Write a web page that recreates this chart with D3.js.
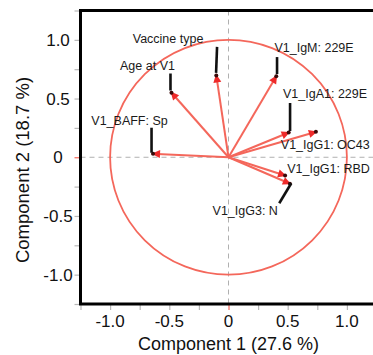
<!DOCTYPE html>
<html>
<head>
<meta charset="utf-8">
<script src="https://cdn.jsdelivr.net/npm/d3@7/dist/d3.min.js"></script>
<style>
  html, body { margin: 0; padding: 0; background: #fff; }
  svg { display: block; }
  text { font-family: "Liberation Sans", Arial, Helvetica, sans-serif; }
</style>
</head>
<body>
<svg id="chart" width="373" height="355"></svg>
<script>
// PCA loadings (variables projected on the first two components)
const variables = ["Vaccine type", "Age at V1", "V1_BAFF: Sp", "V1_IgM: 229E",
                   "V1_IgA1: 229E", "V1_IgG1: OC43", "V1_IgG1: RBD", "V1_IgG3: N"];
const pc1 = [-0.105, -0.49, -0.65, 0.41, 0.52, 0.75, 0.49, 0.53];
const pc2 = [0.71, 0.56, 0.03, 0.70, 0.215, 0.22, -0.16, -0.23];

const majorTicks = [-1.0, -0.5, 0, 0.5, 1.0];
const minorTicks = [-1.25, -0.75, -0.25, 0.25, 0.75, 1.25];
const tickLabels = ["-1.0", "-0.5", "0", "0.5", "1.0"];

const xTitle = "Component 1  (27.6 %)";
const yTitle = "Component 2  (18.7 %)";

// label placement relative to arrow tip: text centre dx, baseline dy, leader start (lx, ly) or null
const labelLayout = [
  { dx: -48, dy: -31, leader: [1, -27] },
  { dx: -23, dy: -22, leader: [0, -18] },
  { dx: -22, dy: -29, leader: [0, -26] },
  { dx: 37,  dy: -23, leader: [0, -18] },
  { dx: 35,  dy: -34, leader: [0, -29] },
  { dx: 8,   dy: 18,  leader: null },
  { dx: 42,  dy: -3,  leader: null },
  { dx: -46, dy: 31,  leader: [-12, 19] }
];

const svg = d3.select("#chart");
const red = "#f4675b";

const x = d3.scaleLinear().domain([-1.25, 1.25]).range([80.5, 376.5]);
const y = d3.scaleLinear().domain([-1.25, 1.25]).range([304, 10.5]);

// axes: minor + major tick marks, labels drawn separately
const tickColor = "#b8b8b8";
const xAxisG = svg.append("g").attr("transform", `translate(0,${y(-1.25)})`);
xAxisG.call(d3.axisBottom(x).tickValues(majorTicks.concat(minorTicks)).tickSize(6).tickFormat(""));
xAxisG.select(".domain").remove();
xAxisG.selectAll(".tick line").attr("stroke", d => d === 0 ? red : tickColor).attr("stroke-width", 1.2);

const yAxisG = svg.append("g").attr("transform", `translate(${x(-1.25)},0)`);
yAxisG.call(d3.axisLeft(y).tickValues(majorTicks.concat(minorTicks)).tickSize(6).tickFormat(""));
yAxisG.select(".domain").remove();
yAxisG.selectAll(".tick line").attr("stroke", d => d === 0 ? red : tickColor).attr("stroke-width", 1.2);

svg.append("g").selectAll("text").data(majorTicks).join("text")
  .attr("x", d => x(d)).attr("y", 327)
  .attr("text-anchor", "middle").attr("font-size", 17).attr("fill", "#111")
  .text((d, i) => tickLabels[i]);

svg.append("g").selectAll("text").data(majorTicks).join("text")
  .attr("x", 58).attr("y", d => y(d) + 6)
  .attr("text-anchor", "middle").attr("font-size", 17).attr("fill", "#111")
  .text((d, i) => tickLabels[i]);

// zero reference lines
const plot = svg.append("g");
plot.append("line")
  .attr("x1", x(-1.25)).attr("x2", x(1.25)).attr("y1", y(0)).attr("y2", y(0))
  .attr("stroke", "#b0b0b0").attr("stroke-width", 1).attr("stroke-dasharray", "5,4");
plot.append("line")
  .attr("x1", x(0)).attr("x2", x(0)).attr("y1", y(1.25)).attr("y2", y(-1.25))
  .attr("stroke", "#b0b0b0").attr("stroke-width", 1).attr("stroke-dasharray", "5,4");

// unit circle of correlations
plot.append("ellipse")
  .attr("cx", x(0)).attr("cy", y(0))
  .attr("rx", x(1) - x(0)).attr("ry", y(0) - y(1))
  .attr("fill", "none").attr("stroke", red).attr("stroke-width", 1.8);

// loading arrows
const pts = variables.map((v, i) => ({ name: v, px: x(pc1[i]), py: y(pc2[i]), lay: labelLayout[i] }));
const ox = x(0), oy = y(0);

plot.append("g").selectAll("line").data(pts).join("line")
  .attr("x1", ox).attr("y1", oy)
  .attr("x2", d => d.px).attr("y2", d => d.py)
  .attr("stroke", red).attr("stroke-width", 2);

plot.append("g").selectAll("path").data(pts).join("path")
  .attr("d", d => {
    const a = Math.atan2(d.py - oy, d.px - ox);
    const L = 8.5, W = 4;
    const bx = d.px - L * Math.cos(a), by = d.py - L * Math.sin(a);
    const nx = -Math.sin(a), ny = Math.cos(a);
    return `M${d.px},${d.py}L${bx + W * nx},${by + W * ny}L${bx - W * nx},${by - W * ny}Z`;
  })
  .attr("fill", "#ee2a2a");

plot.append("g").selectAll("circle").data(pts).join("circle")
  .attr("cx", d => d.px - 1.5 * Math.cos(Math.atan2(d.py - oy, d.px - ox)))
  .attr("cy", d => d.py - 1.5 * Math.sin(Math.atan2(d.py - oy, d.px - ox)))
  .attr("r", 2).attr("fill", "#3a0a0a");

// leader lines and labels
plot.append("g").selectAll("line").data(pts.filter(d => d.lay.leader)).join("line")
  .attr("x1", d => d.px + d.lay.leader[0]).attr("y1", d => d.py + d.lay.leader[1])
  .attr("x2", d => d.px).attr("y2", d => d.py - 1)
  .attr("stroke", "#111").attr("stroke-width", 2.6);

plot.append("g").selectAll("text").data(pts).join("text")
  .attr("x", d => d.px + d.lay.dx).attr("y", d => d.py + d.lay.dy)
  .attr("text-anchor", "middle").attr("font-size", 12.5).attr("fill", "#1a1a1a")
  .text(d => d.name);

// frame
svg.append("rect")
  .attr("x", x(-1.25)).attr("y", y(1.25))
  .attr("width", x(1.25) - x(-1.25)).attr("height", y(-1.25) - y(1.25))
  .attr("fill", "none").attr("stroke", "#000").attr("stroke-width", 3);

// axis titles
svg.append("text")
  .attr("x", x(0)).attr("y", 350)
  .attr("text-anchor", "middle").attr("font-size", 18).attr("fill", "#111")
  .text(xTitle);

svg.append("text")
  .attr("transform", "translate(29,170) rotate(-90)")
  .attr("text-anchor", "middle").attr("font-size", 18.5).attr("fill", "#111")
  .text(yTitle);
</script>
</body>
</html>
